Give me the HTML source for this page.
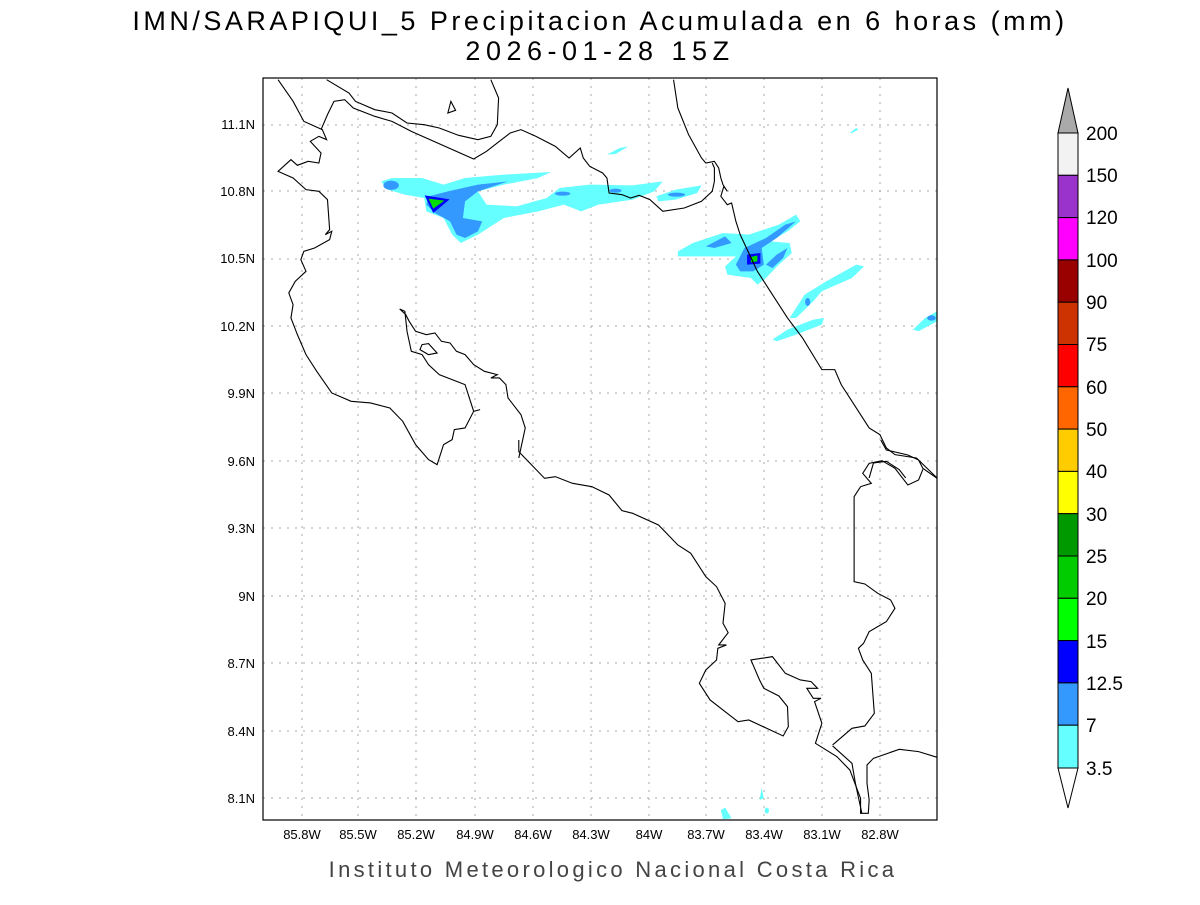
<!DOCTYPE html>
<html><head><meta charset="utf-8"><style>
body{margin:0;background:#fff;width:1200px;height:900px;overflow:hidden;font-family:"Liberation Sans",sans-serif}
svg text{font-family:"Liberation Sans",sans-serif}
</style></head><body>
<svg width="1200" height="900" xmlns="http://www.w3.org/2000/svg">
<rect width="1200" height="900" fill="#fff"/>
<text x="600" y="30" font-size="27" text-anchor="middle" fill="#000" letter-spacing="3.5">IMN/SARAPIQUI_5 Precipitacion Acumulada en 6 horas (mm)</text>
<text x="600" y="60" font-size="27" text-anchor="middle" fill="#000" letter-spacing="5.5">2026-01-28 15Z</text>

<g stroke="#aaa" stroke-width="1" stroke-dasharray="2,6">
<line x1="302" y1="78" x2="302" y2="820"/><line x1="358" y1="78" x2="358" y2="820"/><line x1="416" y1="78" x2="416" y2="820"/><line x1="475" y1="78" x2="475" y2="820"/><line x1="533" y1="78" x2="533" y2="820"/><line x1="591" y1="78" x2="591" y2="820"/><line x1="649" y1="78" x2="649" y2="820"/><line x1="706" y1="78" x2="706" y2="820"/><line x1="764" y1="78" x2="764" y2="820"/><line x1="822" y1="78" x2="822" y2="820"/><line x1="880" y1="78" x2="880" y2="820"/>
<line x1="263" y1="125" x2="937" y2="125"/><line x1="263" y1="191" x2="937" y2="191"/><line x1="263" y1="259" x2="937" y2="259"/><line x1="263" y1="326" x2="937" y2="326"/><line x1="263" y1="393" x2="937" y2="393"/><line x1="263" y1="461" x2="937" y2="461"/><line x1="263" y1="528" x2="937" y2="528"/><line x1="263" y1="596" x2="937" y2="596"/><line x1="263" y1="663" x2="937" y2="663"/><line x1="263" y1="731" x2="937" y2="731"/><line x1="263" y1="798" x2="937" y2="798"/>
</g>

<g transform="translate(263,78) scale(0.4299,0.3333)">
<g fill="#66ffff">
<polygon points="275,310 300,300 370,300 420,320 470,300 560,290 670,282 640,300 560,320 500,340 520,380 590,385 660,360 690,330 760,320 860,322 930,310 910,340 860,365 780,380 740,400 700,380 640,400 560,420 500,470 460,495 440,470 420,420 380,400 375,360 330,350 290,335"/>
<polygon points="915,355 960,335 1020,322 1010,345 960,365 920,370"/>
<polygon points="965,520 1000,495 1070,465 1130,470 1200,440 1240,410 1250,430 1220,460 1180,490 1225,495 1230,525 1200,560 1170,600 1150,620 1135,600 1080,590 1075,565 1100,535 1020,535 965,535"/>
<polygon points="1225,720 1260,650 1310,610 1380,560 1398,565 1370,600 1300,640 1280,670 1240,720"/>
<polygon points="1185,785 1220,755 1280,725 1305,720 1300,740 1240,770 1195,790"/>
<polygon points="1512,755 1540,720 1568,700 1568,730 1525,760"/>
<polygon points="1365,165 1380,150 1385,155 1370,165"/>
<polygon points="800,230 830,210 850,205 820,228"/>
</g>
<g fill="#3399ff">
<ellipse cx="298" cy="322" rx="18" ry="14"/>
<polygon points="385,355 430,340 500,320 570,310 500,340 470,370 465,420 510,430 500,460 470,480 450,470 435,430 400,405 380,380"/>
<ellipse cx="697" cy="347" rx="18" ry="6"/><ellipse cx="820" cy="338" rx="14" ry="6"/><ellipse cx="962" cy="350" rx="20" ry="6"/>
<polygon points="1030,505 1075,475 1090,495 1050,510"/>
<polygon points="1100,560 1120,510 1170,480 1215,440 1240,430 1195,480 1160,510 1165,560 1140,580 1110,580"/>
<polygon points="1170,560 1195,530 1220,510 1210,540 1185,570"/>
<ellipse cx="1267" cy="672" rx="6" ry="12"/><ellipse cx="1555" cy="720" rx="10" ry="8"/>
</g>
<polygon points="376,352 434,364 396,405" fill="#0000ff"/>
<polygon points="385,362 422,368 396,392" fill="#00dd00"/>
<polygon points="1126,530 1157,525 1157,557 1126,560" fill="#0000ff"/>
<polygon points="1135,537 1150,532 1150,550 1135,553" fill="#00dd00"/>
<g fill="none" stroke="#000" stroke-width="1.1">
<polyline vector-effect="non-scaling-stroke" points="35,5 70,70 95,130 138,155 148,185 130,175 110,190 135,225 130,255 105,250 80,262 65,245 35,280 70,300 100,335 130,340 150,365 155,455 145,470 160,460 155,485 120,510 95,520 88,545 100,580 75,610 60,645 70,680 65,720 80,770 100,830 125,880 160,945 205,970 250,975 295,990 325,1030 355,1100 385,1145 405,1160 420,1100 440,1085 445,1055 470,1050 490,1000 505,995"/>
<polyline vector-effect="non-scaling-stroke" points="490,1000 480,960 470,920 440,905 410,890 385,860 370,830 345,820 335,760 330,700 318,693 332,710 340,730 355,760 380,770 400,765 415,790 435,795 450,820 470,830 490,860 515,880 545,890 530,900 550,900 565,920 570,960 585,985 600,1010 610,1050 605,1080 600,1110 595,1140"/>
<polygon vector-effect="non-scaling-stroke" points="370,800 385,797 405,825 385,830 365,815"/>
<polygon vector-effect="non-scaling-stroke" points="430,105 437,70 448,97"/>
<polyline vector-effect="non-scaling-stroke" points="148,5 200,45 215,70 260,95 300,105 335,135 375,140 410,150 455,172 500,185 530,175 545,140 548,60 530,5"/>
<polyline vector-effect="non-scaling-stroke" points="135,155 150,110 165,70 190,65 210,90 260,115 300,130 345,160 490,243 520,220 545,195 575,165 600,155 635,175 680,205 712,240 738,210 745,240 760,265 790,285 800,300 805,345 835,350 855,360 875,352 900,365 930,400 980,390 1020,370 1045,340 1050,310 1050,270 1045,255"/>
<polyline vector-effect="non-scaling-stroke" points="955,5 965,90 990,170 1020,240 1030,255 1050,250 1060,270 1065,300 1070,320 1080,340 1072,325 1065,355 1080,380 1090,375 1100,430 1110,470 1130,525 1150,580 1180,640 1220,720 1255,780 1300,875 1330,875 1345,920 1380,990 1410,1050 1435,1070 1450,1110 1470,1130 1520,1140 1568,1200"/>
<polyline vector-effect="non-scaling-stroke" points="1410,1200 1420,1155 1450,1150 1480,1175 1495,1200"/>
</g>
</g>

<g transform="translate(263,440) scale(0.4299,0.3333)">
<g fill="#66ffff">
<polygon points="1065,1110 1075,1103 1090,1135 1070,1138"/>
<polygon points="1155,1080 1160,1045 1165,1075"/>
<ellipse cx="1172" cy="1112" rx="5" ry="9"/>
</g>
<g fill="none" stroke="#000" stroke-width="1.1">
<polyline vector-effect="non-scaling-stroke" points="595,0 595,35 625,75 655,115 680,110 720,130 765,140 805,165 835,212 860,220 920,255 965,315 995,340 1030,410 1055,440 1075,490 1070,550 1082,578 1060,615 1078,615 1058,625 1055,660 1030,690 1015,730 1040,780 1075,815 1105,845 1130,840 1210,888 1222,860 1220,800 1200,768 1165,745 1155,720 1135,660 1185,650 1215,700 1250,720 1275,725 1290,745 1265,745 1280,775 1298,775 1283,785 1300,850 1285,910 1335,950 1365,990 1390,1075 1390,1120 1408,1120 1410,1080 1405,1030 1405,975 1420,955 1480,928 1525,935 1568,952"/>
<polyline vector-effect="non-scaling-stroke" points="1325,918 1370,970 1378,1030 1393,1120"/>
<polyline vector-effect="non-scaling-stroke" points="1437,0 1450,30 1500,45 1525,60 1535,85 1568,115"/>
<polyline vector-effect="non-scaling-stroke" points="1535,88 1525,120 1500,135 1470,85 1440,62 1410,70 1395,100 1415,130 1390,140 1375,170 1375,425 1400,432 1430,460 1460,480 1470,505 1450,545 1410,575 1397,610 1385,625 1395,660 1415,700 1422,820 1400,858 1370,865 1325,915"/>
</g>
</g>

<rect x="263" y="78" width="674" height="742" fill="none" stroke="#000" stroke-width="1.2"/>

<g font-size="13" fill="#000" text-anchor="end">
<text x="255" y="129">11.1N</text><text x="255" y="196">10.8N</text><text x="255" y="263">10.5N</text><text x="255" y="331">10.2N</text><text x="255" y="398">9.9N</text><text x="255" y="466">9.6N</text><text x="255" y="533">9.3N</text><text x="255" y="601">9N</text><text x="255" y="668">8.7N</text><text x="255" y="736">8.4N</text><text x="255" y="803">8.1N</text>
</g>
<g font-size="13" fill="#000" text-anchor="middle">
<text x="302" y="839">85.8W</text><text x="358" y="839">85.5W</text><text x="416" y="839">85.2W</text><text x="475" y="839">84.9W</text><text x="533" y="839">84.6W</text><text x="591" y="839">84.3W</text><text x="649" y="839">84W</text><text x="706" y="839">83.7W</text><text x="764" y="839">83.4W</text><text x="822" y="839">83.1W</text><text x="880" y="839">82.8W</text>
</g>
<text x="613" y="877" font-size="22" text-anchor="middle" fill="#444" letter-spacing="3.3">Instituto Meteorologico Nacional Costa Rica</text>

<g stroke="#000" stroke-width="1">
<polygon points="1058,133 1068,88 1078,133" fill="#aaaaaa"/>
<rect x="1058" y="133" width="20" height="42.3" fill="#f2f2f2"/>
<rect x="1058" y="175.3" width="20" height="42.3" fill="#9933cc"/>
<rect x="1058" y="217.6" width="20" height="42.3" fill="#ff00ff"/>
<rect x="1058" y="259.9" width="20" height="42.3" fill="#990000"/>
<rect x="1058" y="302.2" width="20" height="42.3" fill="#cc3300"/>
<rect x="1058" y="344.5" width="20" height="42.3" fill="#ff0000"/>
<rect x="1058" y="386.8" width="20" height="42.3" fill="#ff6600"/>
<rect x="1058" y="429.1" width="20" height="42.3" fill="#ffcc00"/>
<rect x="1058" y="471.4" width="20" height="42.3" fill="#ffff00"/>
<rect x="1058" y="513.7" width="20" height="42.3" fill="#009900"/>
<rect x="1058" y="556" width="20" height="42.3" fill="#00cc00"/>
<rect x="1058" y="598.3" width="20" height="42.3" fill="#00ff00"/>
<rect x="1058" y="640.6" width="20" height="42.3" fill="#0000ff"/>
<rect x="1058" y="682.9" width="20" height="42.3" fill="#3399ff"/>
<rect x="1058" y="725.2" width="20" height="42.8" fill="#66ffff"/>
<polygon points="1058,768 1068,808 1078,768" fill="#fff"/>
</g>
<g font-size="19" fill="#000">
<text x="1086" y="140">200</text><text x="1086" y="182">150</text><text x="1086" y="224">120</text><text x="1086" y="267">100</text><text x="1086" y="309">90</text><text x="1086" y="351">75</text><text x="1086" y="394">60</text><text x="1086" y="436">50</text><text x="1086" y="478">40</text><text x="1086" y="521">30</text><text x="1086" y="563">25</text><text x="1086" y="605">20</text><text x="1086" y="648">15</text><text x="1086" y="690">12.5</text><text x="1086" y="732">7</text><text x="1086" y="775">3.5</text>
</g>
</svg>
</body></html>
